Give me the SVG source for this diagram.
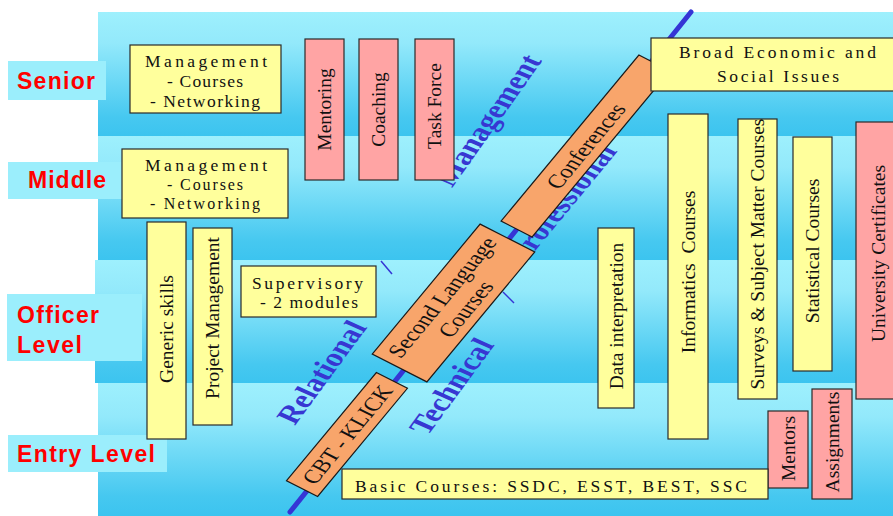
<svg xmlns="http://www.w3.org/2000/svg" width="893" height="516" viewBox="0 0 893 516">
<defs>
<linearGradient id="band" x1="0" y1="0" x2="0" y2="1">
<stop offset="0" stop-color="#9ef0fd"/>
<stop offset="0.25" stop-color="#93e9fb"/>
<stop offset="0.85" stop-color="#46c8f0"/>
<stop offset="1" stop-color="#3cc4ef"/>
</linearGradient>
<style>
.band{fill:url(#band)}
.lab{fill:#9beefc}
.lt{font-family:"Liberation Sans",Arial,sans-serif;font-weight:bold;font-size:23px;fill:#ff0000}
.y{fill:#ffff9c;stroke:#2a2a2a;stroke-width:1.2}
.p{fill:#ffa4a4;stroke:#2a2a2a;stroke-width:1.2}
.o{fill:#f8a56b;stroke:#1a1a1a;stroke-width:1.2}
.t{font-family:"Liberation Serif","Times New Roman",serif;font-size:17.5px;fill:#111}
.s{font-family:"Liberation Serif","Times New Roman",serif;font-size:16px;fill:#111}
.v{font-family:"Liberation Serif","Times New Roman",serif;font-size:19.5px;fill:#111;text-anchor:middle}
.d{font-family:"Liberation Serif","Times New Roman",serif;font-size:26px;font-weight:bold;fill:#3737d2;text-anchor:middle}
.axis{stroke:#3535d5;stroke-width:5;stroke-linecap:round;fill:none}
.tick{stroke:#3535d5;stroke-width:1.5;fill:none}
</style>
</defs>
<g id="background">
<rect class="band" x="98" y="12" width="795" height="124"/>
<rect class="band" x="98" y="136" width="795" height="124"/>
<rect class="band" x="95" y="260" width="798" height="123"/>
<rect class="band" x="98" y="383" width="795" height="133"/>
</g>
<g id="label-senior"><rect class="lab" x="8" y="61" width="98" height="39"/><text class="lt" x="17" y="89" textLength="78" lengthAdjust="spacing">Senior</text></g>
<g id="label-middle"><rect class="lab" x="8" y="162" width="114" height="37"/><text class="lt" x="28" y="188" textLength="78" lengthAdjust="spacing">Middle</text></g>
<g id="label-officer"><rect class="lab" x="7" y="294" width="135" height="67"/><text class="lt" x="17" y="323" textLength="82" lengthAdjust="spacing">Officer</text><text class="lt" x="17" y="353" textLength="65" lengthAdjust="spacing">Level</text></g>
<g id="label-entry"><rect class="lab" x="8" y="435" width="159" height="37"/><text class="lt" x="17" y="462" textLength="138" lengthAdjust="spacing">Entry Level</text></g>
<g id="connectors">
<line class="axis" x1="691" y1="12" x2="290" y2="512"/>
<line class="tick" x1="381" y1="261" x2="392" y2="274"/>
<line class="tick" x1="503" y1="292" x2="514" y2="303"/>
</g>
<g id="dir-relational"><text class="d" transform="translate(321,372) scale(1.278,1) rotate(-60)" dy="0.35em">Relational</text></g>
<g id="dir-technical"><text class="d" transform="translate(451,386) scale(1.278,1) rotate(-60)" dy="0.35em">Technical</text></g>
<g id="dir-management"><text class="d" transform="translate(487,120) scale(1.278,1) rotate(-61)" dy="0.35em">Management</text></g>
<g id="dir-professional"><text class="d" transform="translate(561,203) scale(1.278,1) rotate(-57)" dy="0.35em">Professional</text></g>
<g id="senior-management"><rect class="y" x="130" y="45" width="151" height="68"/>
<text class="t" x="145" y="67" textLength="122" lengthAdjust="spacing">Management</text>
<text class="t" x="167" y="87" textLength="76" lengthAdjust="spacing">- Courses</text>
<text class="t" x="150" y="107" textLength="110" lengthAdjust="spacing">- Networking</text></g>
<g id="middle-management"><rect class="y" x="122" y="149" width="166" height="69"/>
<text class="t" x="145" y="171" textLength="122" lengthAdjust="spacing">Management</text>
<text class="s" x="167" y="190" textLength="76" lengthAdjust="spacing">- Courses</text>
<text class="s" x="150" y="209" textLength="110" lengthAdjust="spacing">- Networking</text></g>
<g id="mentoring"><rect class="p" x="305" y="39" width="39" height="141"/><text class="v" transform="translate(331,109.5) rotate(-90)">Mentoring</text></g>
<g id="coaching"><rect class="p" x="359" y="39" width="39" height="141"/><text class="v" transform="translate(385,109.5) rotate(-90)">Coaching</text></g>
<g id="task-force"><rect class="p" x="415" y="39" width="39" height="141"/><text class="v" transform="translate(441,106) rotate(-90)">Task Force</text></g>
<g id="generic-skills"><rect class="y" x="147" y="222" width="39" height="217"/><text class="v" transform="translate(173,329) rotate(-90)">Generic skills</text></g>
<g id="project-management"><rect class="y" x="193" y="228" width="39" height="197"/><text class="v" transform="translate(219,318) rotate(-90)">Project Management</text></g>
<g id="supervisory"><rect class="y" x="241" y="266" width="135" height="51"/>
<text class="t" x="252" y="289" textLength="111" lengthAdjust="spacing">Supervisory</text>
<text class="t" x="260" y="308" textLength="98" lengthAdjust="spacing">- 2 modules</text></g>
<g id="cbt-klick" transform="translate(347,434.5) scale(1.278,1) rotate(-57)"><rect class="o" x="-64.5" y="-14.5" width="129" height="29" vector-effect="non-scaling-stroke"/><text class="v" dy="0.35em">CBT - KLICK</text></g>
<g id="second-language" transform="translate(453.5,303) scale(1.278,1) rotate(-57)"><rect class="o" x="-77.5" y="-25.5" width="155" height="51" vector-effect="non-scaling-stroke"/><text class="v" y="-4">Second Language</text><text class="v" y="18">Courses</text></g>
<g id="conferences" transform="translate(585.5,146) scale(1.278,1) rotate(-57)"><rect class="o" x="-99" y="-14.5" width="198" height="29" vector-effect="non-scaling-stroke"/><text class="v" dy="0.35em">Conferences</text></g>
<g id="broad-issues"><rect class="y" x="651" y="38" width="250" height="53"/>
<text class="t" x="679" y="58" textLength="197" lengthAdjust="spacing">Broad Economic and</text>
<text class="t" x="717" y="82" textLength="122" lengthAdjust="spacing">Social Issues</text></g>
<g id="data-interpretation"><rect class="y" x="598" y="228" width="36" height="180"/><text class="v" transform="translate(622.5,316) rotate(-90)">Data interpretation</text></g>
<g id="informatics"><rect class="y" x="668" y="114" width="40" height="325"/><text class="v" transform="translate(694.5,272) rotate(-90)" xml:space="preserve">Informatics  Courses</text></g>
<g id="surveys"><rect class="y" x="738" y="119" width="39" height="280"/><text class="v" transform="translate(764,254) rotate(-90)">Surveys &amp; Subject Matter Courses</text></g>
<g id="statistical"><rect class="y" x="793" y="137" width="39" height="234"/><text class="v" transform="translate(819,251) rotate(-90)">Statistical Courses</text></g>
<g id="university"><rect class="p" x="856" y="122" width="45" height="277"/><text class="v" transform="translate(885,253.5) rotate(-90)">University Certificates</text></g>
<g id="mentors"><rect class="p" x="768" y="411" width="40" height="77"/><text class="v" transform="translate(794.5,448.5) rotate(-90)">Mentors</text></g>
<g id="assignments"><rect class="p" x="812" y="389" width="40" height="110"/><text class="v" transform="translate(838.5,442) rotate(-90)">Assignments</text></g>
<g id="basic-courses"><rect class="y" x="342" y="469" width="426" height="30"/>
<text class="t" x="355" y="492" textLength="392" lengthAdjust="spacing">Basic Courses: SSDC, ESST, BEST, SSC</text></g>
</svg>
